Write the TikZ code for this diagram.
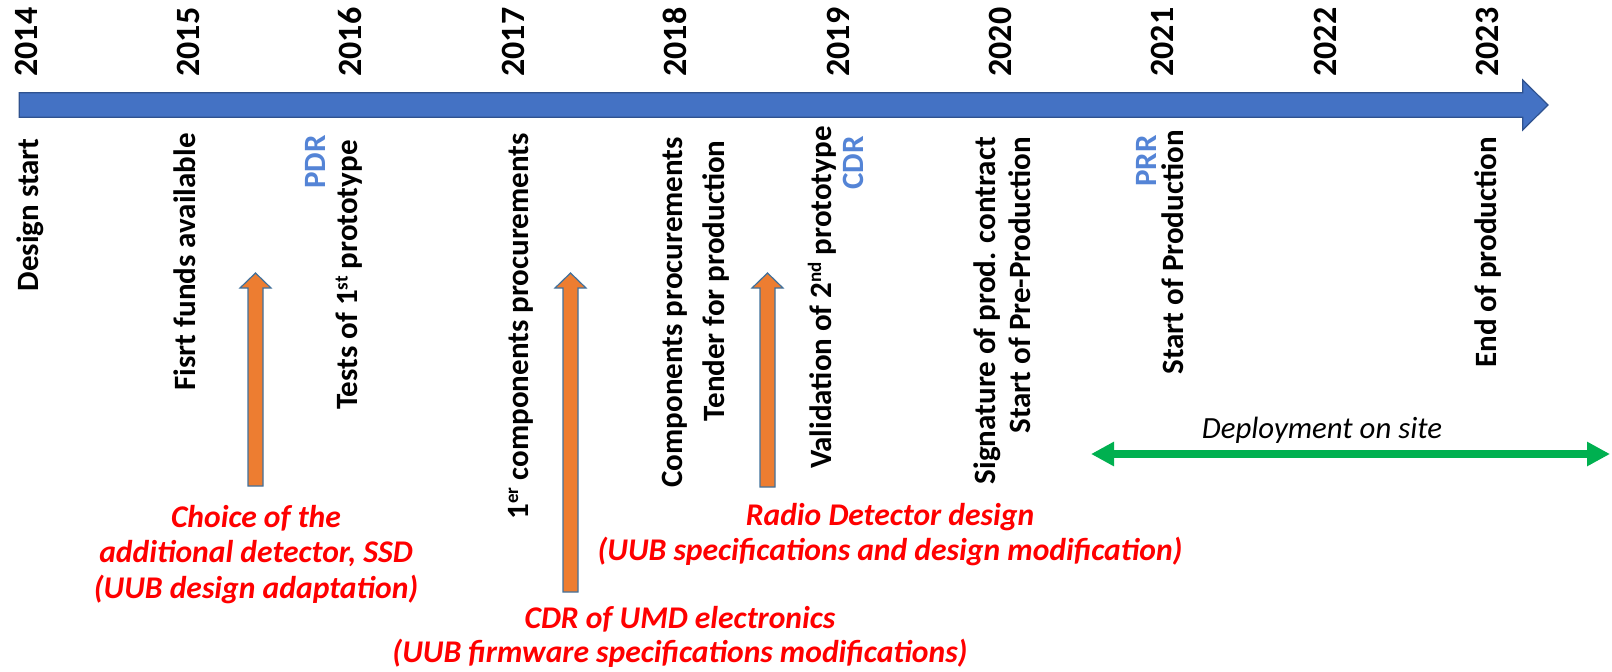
\documentclass[tikz,border=0pt]{standalone}
\usepackage{fontspec}
\setmainfont{Carlito}
\usetikzlibrary{arrows.meta}
\definecolor{barblue}{RGB}{68,114,196}
\definecolor{baredge}{RGB}{47,82,143}
\definecolor{revblue}{RGB}{84,132,214}
\definecolor{taskorange}{RGB}{237,125,49}
\definecolor{taskedge}{RGB}{65,113,156}
\definecolor{notered}{RGB}{255,0,0}
\definecolor{sitegreen}{RGB}{0,176,80}
% small raised ordinal suffix (1st, 2nd, 1er)
\newcommand\supx[1]{\raisebox{5pt}{\fontsize{9.5}{10}\selectfont #1}}

\begin{document}
\begin{tikzpicture}[x=0.5pt,y=-0.5pt,
  yearlab/.style={rotate=90,anchor=base west,inner sep=0pt,font=\bfseries\fontsize{17}{20}\selectfont},
  eventlab/.style={rotate=90,anchor=base east,inner sep=0pt,font=\bfseries\fontsize{15.5}{18}\selectfont},
  review/.style={eventlab,text=revblue},
  notelab/.style={anchor=base,inner sep=0pt,text=notered,font=\bfseries\itshape\fontsize{15.8}{19}\selectfont},
  timebar/.style={fill=barblue,draw=baredge,line width=0.6pt},
  upblock/.style={fill=taskorange,draw=taskedge,line width=0.6pt},
  siteline/.style={draw=sitegreen,line width=3.9pt,
    {Triangle[length=11.5pt,width=11.5pt]}-{Triangle[length=11.5pt,width=11.5pt]}}
]
\useasboundingbox (0,0) rectangle (1612,671);

% time axis
\path[timebar] (19.3,92.7) -- (1522.7,92.7) -- (1522.7,80) -- (1548,105)
  -- (1522.7,130) -- (1522.7,117.3) -- (19.3,117.3) -- cycle;

% years above the axis
\foreach \yr [count=\k from 0] in {2014,2015,2016,2017,2018,2019,2020,2021,2022,2023}
  \node[yearlab] (y\yr) at ({37+162.4*\k},77) {\yr};

% milestones below the axis
\node[eventlab] (design) at (38.3,138) {Design start};
\node[eventlab] (funds)  at (195,133) {Fisrt funds available};
\node[review]   (pdr)    at (325,135) {PDR};
\node[eventlab] (tests)  at (357.5,140) {Tests of 1\supx{st} prototype};
\node[eventlab] (first)  at (528,133) {1\supx{er} components procurements};
\node[eventlab] (comp)   at (682,136.7) {Components procurements};
\node[eventlab] (tender) at (724,140) {Tender for production};
\node[eventlab] (valid)  at (831,126) {Validation of 2\supx{nd} prototype};
\node[review]   (cdr)    at (863.3,136) {CDR};
\node[eventlab] (sign)   at (995,136.7) {Signature of prod. contract};
\node[eventlab] (prepro) at (1030,136.7) {Start of Pre-Production};
\node[review]   (prr)    at (1156.7,135) {PRR};
\node[eventlab] (prod)   at (1183,130) {Start of Production};
\node[eventlab] (endp)   at (1496.7,136.7) {End of production};

% design changes pushed into the schedule
\foreach \cx/\by in {255.5/486, 570.5/592, 767.5/487}
  \path[upblock] ({\cx-7.5},\by) -- ({\cx-7.5},288) -- ({\cx-15.5},288) -- (\cx,273)
    -- ({\cx+15.5},288) -- ({\cx+7.5},288) -- ({\cx+7.5},\by) -- cycle;

\node[notelab] (ssd1) at (256,527) {Choice of the};
\node[notelab] (ssd2) at (256,562) {additional detector, SSD};
\node[notelab] (ssd3) at (256,598) {(UUB design adaptation)};

\node[notelab] (umd1) at (680,628.3) {CDR of UMD electronics};
\node[notelab] (umd2) at (680,662.7) {(UUB firmware specifications modifications)};

\node[notelab] (rd1) at (890,525) {Radio Detector design};
\node[notelab] (rd2) at (890,560) {(UUB specifications and design modification)};

% deployment period
\coordinate (siteL) at (1091,454);
\coordinate (siteR) at (1610,454);
\draw[siteline] (siteL) -- (siteR);
\node[anchor=base,inner sep=0pt,font=\itshape\fontsize{15.4}{18}\selectfont] (deploy)
  at (1322,438.3) {Deployment on site};
\end{tikzpicture}
\end{document}
